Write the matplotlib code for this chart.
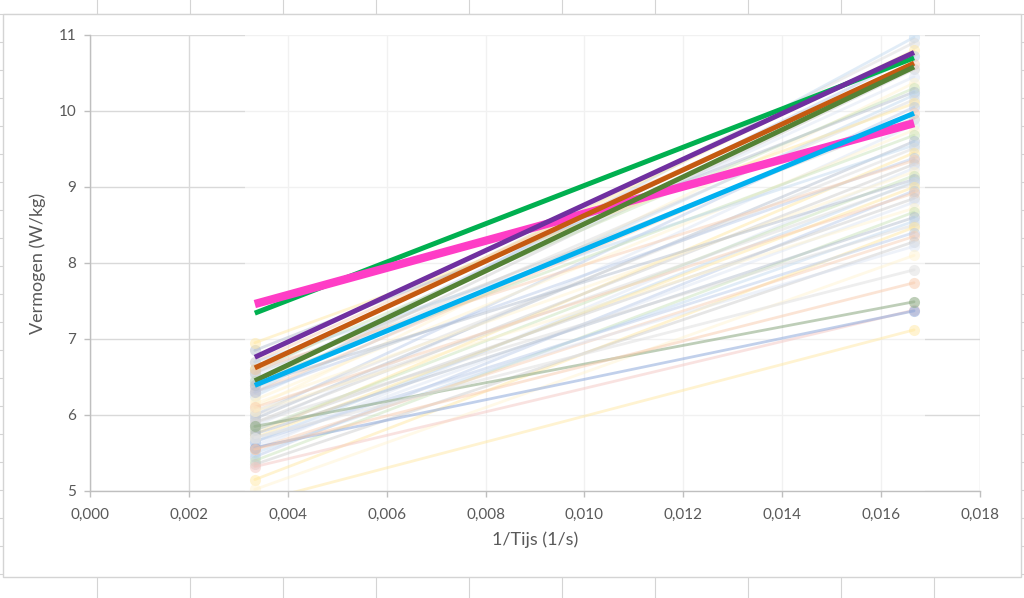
import matplotlib
matplotlib.use("Agg")
import matplotlib.pyplot as plt
from matplotlib.lines import Line2D
from matplotlib.patches import Rectangle

# ------------------------------------------------------------
# DATA
# ------------------------------------------------------------

# Durations in seconds (5 min and 1 min) -> x = 1/Tijs
tijd = [300, 60]

# Highlighted riders: power at 300 s and at 60 s
hl_left  = [7.34, 7.46, 6.62, 6.45, 6.76, 6.39]
hl_right = [10.70, 9.84, 10.63, 10.58, 10.77, 9.97]

# Main bundle of other riders (drawn faint)
faint_left = [
    6.30, 6.55, 6.60, 6.45, 6.70, 6.35, 6.50, 6.10, 6.60, 6.85,
    6.25, 6.40, 6.95, 6.00, 6.30, 6.55, 5.85, 6.20, 6.45, 5.95,
    6.70, 6.05, 5.75, 6.30, 6.60, 5.90, 5.55, 6.15, 5.80, 6.40,
    5.65, 6.00, 5.70, 5.45, 6.10, 5.80, 5.60, 6.05, 5.40, 5.75,
    5.50, 5.90, 5.15, 5.65, 5.55, 5.35, 5.70, 5.02,
]
faint_right = [
    10.97, 10.90, 10.80, 10.72, 10.62, 10.55, 10.45, 10.37, 10.30, 10.25,
    10.21, 10.15, 10.10, 10.05, 9.98, 9.90, 9.82, 9.75, 9.68, 9.60,
    9.55, 9.51, 9.45, 9.38, 9.35, 9.30, 9.25, 9.20, 9.15, 9.10,
    9.07, 9.05, 9.00, 8.95, 8.92, 8.85, 8.80, 8.72, 8.67, 8.60,
    8.55, 8.50, 8.47, 8.40, 8.35, 8.28, 8.22, 8.10,
]

# Lower, separated riders (faint)
low_left  = [4.85, 5.32, 5.57, 5.85, 5.55, 5.70]
low_right = [7.12, 7.38, 7.37, 7.49, 7.74, 7.91]

x_ticks = [0.000, 0.002, 0.004, 0.006, 0.008, 0.010, 0.012, 0.014, 0.016, 0.018]
y_ticks = [5, 6, 7, 8, 9, 10, 11]

# ------------------------------------------------------------
# STYLE
# ------------------------------------------------------------

plt.rcParams["font.family"] = ["Lato", "DejaVu Sans"]

C_TEXT  = "#595959"
C_AXIS  = "#BFBFBF"
C_GRID  = "#D9D9D9"
C_SHEET = "#D4D4D4"

HL_COLORS = ["#00B050", "#FF3DC6", "#C55A11", "#548235", "#7030A0", "#00B0F0"]
HL_WIDTHS = [3.6, 6.0, 3.6, 3.6, 3.6, 3.6]

FAINT_COLORS = ["#BDD7EE", "#D9D9D9", "#FFE699", "#B4C7E7", "#F8CBAD",
                "#C9C9C9", "#DAE3F3", "#FFF2CC", "#C5E0B4", "#ADB9CA"]
LOW_COLORS = ["#FFE699", "#F4C7C3", "#8FAADC", "#93AE8A", "#F8CBAD", "#E3E3E3"]
LOW_ALPHA  = [0.45, 0.5, 0.55, 0.6, 0.5, 0.6]

x = [1 / t for t in tijd]

# ------------------------------------------------------------
# FIGURE
# ------------------------------------------------------------

W, H = 1024, 598
fig = plt.figure(figsize=(W / 100, H / 100), dpi=100)
fig.patch.set_facecolor("white")

# spreadsheet cells behind the chart
for cx in range(97, W, 93):
    fig.add_artist(Line2D([cx / W, cx / W], [0, 1], color=C_SHEET,
                          lw=0.8, transform=fig.transFigure, zorder=-3))
for k in range(0, 23):
    ry = 14 + 28 * k
    fig.add_artist(Line2D([0, 1], [1 - ry / H, 1 - ry / H], color=C_SHEET,
                          lw=0.8, transform=fig.transFigure, zorder=-3))

# chart area
fig.add_artist(Rectangle((3 / W, 1 - 577 / H), 1018 / W, 563 / H,
                         transform=fig.transFigure, facecolor="white",
                         edgecolor=C_SHEET, lw=1.0, zorder=-2))

ax = fig.add_axes([90 / W, 1 - 491 / H, 890 / W, 456 / H])
ax.set_zorder(1)
ax.set_facecolor("none")
ax.set_xlim(0, 0.018)
ax.set_ylim(5, 11)

ax.set_xticks(x_ticks)
ax.set_xticklabels([f"{v:.3f}".replace(".", ",") for v in x_ticks])
ax.set_yticks(y_ticks)
ax.set_yticklabels([str(v) for v in y_ticks])

ax.grid(True, color=C_GRID, lw=1.0)
ax.set_axisbelow(True)

for side in ["top", "right"]:
    ax.spines[side].set_visible(False)
for side in ["left", "bottom"]:
    ax.spines[side].set_color(C_AXIS)
    ax.spines[side].set_linewidth(1.0)

ax.tick_params(axis="both", colors=C_AXIS, labelcolor=C_TEXT,
               labelsize=11, length=4, width=1.0, direction="out")
ax.tick_params(axis="x", pad=8)
ax.tick_params(axis="y", pad=6)

ax.set_xlabel("1/Tijs (1/s)", fontsize=13, color=C_TEXT, labelpad=7)
ax.set_ylabel("Vermogen (W/kg)", fontsize=13, color=C_TEXT, labelpad=9)

# semi-transparent plot band that washes out gridlines
ax.axvspan(0.00313, 0.01689, color="white", alpha=0.65, lw=0, zorder=1)

# faint lines
for i, (a, b) in enumerate(zip(faint_left, faint_right)):
    col = FAINT_COLORS[i % len(FAINT_COLORS)]
    ax.plot(x, [a, b], color=col, lw=2.0, alpha=0.45, marker="o",
            markersize=8, markeredgewidth=0, solid_capstyle="round", zorder=2)
for i, (a, b) in enumerate(zip(low_left, low_right)):
    ax.plot(x, [a, b], color=LOW_COLORS[i], lw=2.0, alpha=LOW_ALPHA[i],
            marker="o", markersize=8, markeredgewidth=0,
            solid_capstyle="round", zorder=2)

# highlighted lines
for i, (a, b) in enumerate(zip(hl_left, hl_right)):
    ax.plot(x, [a, b], color=HL_COLORS[i], lw=HL_WIDTHS[i],
            solid_capstyle="butt", zorder=3 + i)

fig.savefig("out.png", dpi=100, facecolor="white")
